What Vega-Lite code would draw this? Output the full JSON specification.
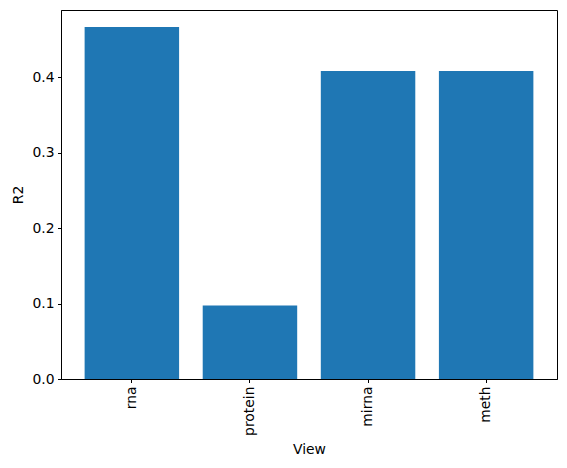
{
  "$schema": "https://vega.github.io/schema/vega-lite/v6.json",
  "autosize": "none",
  "width": 496,
  "height": 369,
  "padding": {"left": 61, "top": 10, "right": 10, "bottom": 89},
  "background": "white",
  "config": {
    "font": "DejaVu Sans",
    "view": {"stroke": "black", "strokeWidth": 1},
    "axis": {
      "grid": false,
      "domainColor": "black",
      "tickColor": "black",
      "tickSize": 3.5,
      "labelColor": "black",
      "labelFontSize": 13.9,
      "labelFont": "DejaVu Sans",
      "titleFont": "DejaVu Sans",
      "titleFontSize": 13.9,
      "titleFontWeight": "normal",
      "titleColor": "black",
      "labelPadding": 3.5
    }
  },
  "data": {
    "values": [
      {"View": "rna", "R2": 0.4666},
      {"View": "protein", "R2": 0.0975},
      {"View": "mirna", "R2": 0.4083},
      {"View": "meth", "R2": 0.4083}
    ]
  },
  "mark": {"type": "bar", "color": "#1f77b4"},
  "encoding": {
    "x": {
      "field": "View",
      "type": "nominal",
      "sort": null,
      "scale": {"paddingInner": 0.2, "paddingOuter": 0.2},
      "axis": {"labelAngle": 270, "title": "View", "titlePadding": 7}
    },
    "y": {
      "field": "R2",
      "type": "quantitative",
      "scale": {"domain": [0, 0.489], "nice": false, "zero": true},
      "axis": {"values": [0, 0.1, 0.2, 0.3, 0.4], "format": ".1f", "title": "R2", "titlePadding": 6}
    }
  }
}
